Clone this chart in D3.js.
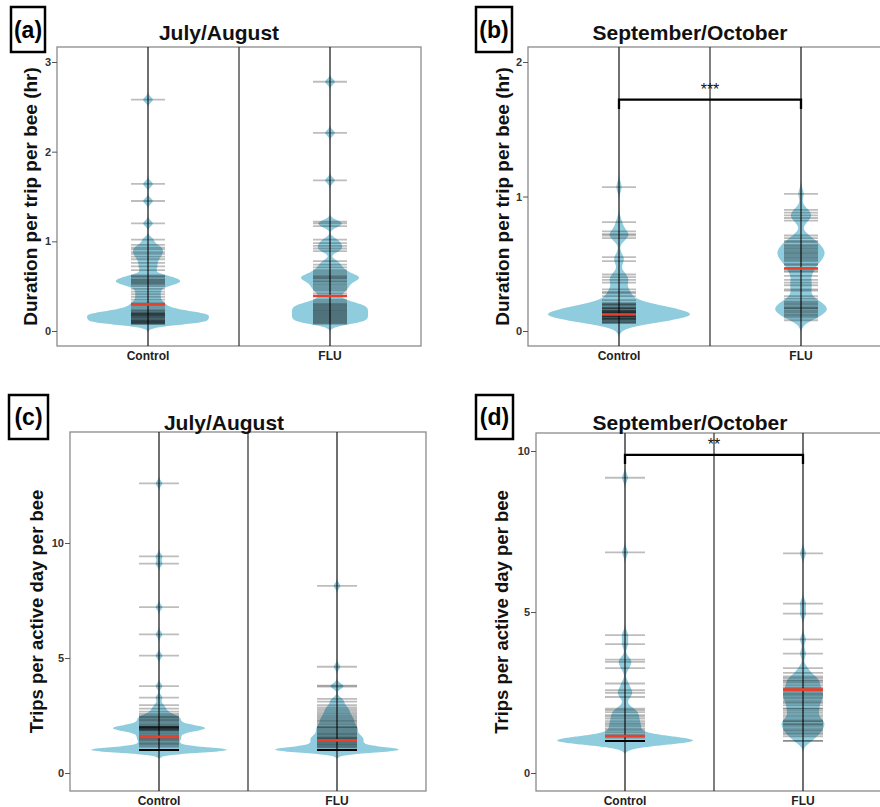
<!DOCTYPE html>
<html><head><meta charset="utf-8">
<script src="https://cdn.jsdelivr.net/npm/d3@7"></script>
<style>body{margin:0;background:#fff} svg{display:block;font-family:"Liberation Sans",Arial,sans-serif}</style>
</head><body><svg id="chart" width="880" height="807"></svg>
<script>
// ---------------- DATA ----------------
const categories = ["Control", "FLU"];

// (a) Duration per trip per bee (hr), July/August
const durJulControl = [2.58, 1.64, 1.45, 1.20, 1.02,
  0.96, 0.93, 0.91, 0.88, 0.86, 0.83, 0.80, 0.76, 0.72, 0.68,
  0.62, 0.61, 0.60, 0.58, 0.57, 0.56, 0.55, 0.54, 0.53, 0.52, 0.50, 0.47, 0.44, 0.41, 0.38, 0.35,
  0.32, 0.30, 0.28, 0.26, 0.24, 0.23, 0.22, 0.21, 0.20, 0.20, 0.19, 0.19, 0.18, 0.18, 0.17, 0.17,
  0.16, 0.15, 0.15, 0.14, 0.13, 0.12, 0.12, 0.11, 0.11, 0.10, 0.10, 0.09, 0.09, 0.08, 0.08];
const durJulFLU = [2.78, 2.21, 1.68, 1.22, 1.20, 1.17,
  1.02, 0.98, 0.95, 0.92, 0.89,
  0.78, 0.74, 0.71, 0.68, 0.66, 0.64, 0.62, 0.61, 0.60, 0.59, 0.58, 0.56, 0.55, 0.53, 0.51, 0.49, 0.47, 0.45, 0.42, 0.39,
  0.35, 0.33, 0.31, 0.30, 0.29, 0.28, 0.27, 0.26, 0.25, 0.24, 0.23, 0.22, 0.21, 0.20, 0.19, 0.18,
  0.17, 0.16, 0.15, 0.14, 0.13, 0.12, 0.11, 0.10, 0.09, 0.08];
const durJulAverage = [0.297, 0.39];
const durJulTicks = [0, 1, 2, 3];

// (b) Duration per trip per bee (hr), September/October
const durSepControl = [1.07, 0.81, 0.74, 0.72, 0.71, 0.69, 0.55, 0.52, 0.42, 0.40, 0.38, 0.36,
  0.31, 0.29, 0.28, 0.26,
  0.23, 0.21, 0.20, 0.20, 0.19, 0.19, 0.18, 0.17, 0.17, 0.17, 0.16, 0.16, 0.15, 0.15, 0.15, 0.14, 0.14, 0.14, 0.13, 0.13, 0.13, 0.13,
  0.12, 0.12, 0.12, 0.12, 0.11, 0.11, 0.11, 0.11, 0.10, 0.10, 0.10, 0.09, 0.09, 0.09, 0.08, 0.08, 0.07, 0.07, 0.06, 0.06];
const durSepFLU = [1.02, 0.90, 0.88, 0.86, 0.84, 0.82,
  0.71, 0.69, 0.67, 0.66, 0.64, 0.63, 0.62, 0.61, 0.60, 0.59, 0.58, 0.57, 0.56, 0.55, 0.54, 0.53, 0.52, 0.50, 0.49, 0.47, 0.45, 0.44,
  0.41, 0.38, 0.36, 0.34, 0.31, 0.30,
  0.26, 0.24, 0.22, 0.21, 0.20, 0.19, 0.18, 0.17, 0.17, 0.16, 0.15, 0.14, 0.13, 0.12, 0.11, 0.10, 0.08];
const durSepAverage = [0.123, 0.465];
const durSepTicks = [0, 1, 2];
const durSepBracket = [1.72, 1.65];

// (c) Trips per active day per bee, July/August
const tripsJulControl = [12.59, 9.42, 9.10, 7.21, 6.03, 5.10, 3.78, 3.28, 2.95, 2.80, 2.67, 2.57, 2.50, 2.45, 2.43, 2.38, 2.33, 2.30,
  2.25, 2.20, 2.14, 2.10, 2.05, 2.02, 2.00, 2.00, 2.00, 1.98, 1.96, 1.95, 1.93, 1.92, 1.90, 1.88, 1.86, 1.84, 1.80, 1.75, 1.70, 1.65, 1.60, 1.57,
  1.50, 1.50, 1.44, 1.40, 1.33, 1.29, 1.25, 1.20, 1.14,
  1.00, 1.00, 1.00, 1.00, 1.00, 1.00, 1.00, 1.00, 1.00, 1.00, 1.00, 1.00, 1.00, 1.00, 1.00, 1.00, 1.00, 1.00, 1.00, 1.00];
const tripsJulFLU = [8.14, 4.62, 3.80, 3.76, 3.22, 3.10, 2.95, 2.85, 2.78, 2.70, 2.62, 2.55, 2.48, 2.42, 2.36, 2.30,
  2.25, 2.20, 2.14, 2.08, 2.00, 2.00, 1.95, 1.90, 1.85, 1.80, 1.75, 1.70, 1.67, 1.62, 1.57, 1.53, 1.50, 1.50,
  1.45, 1.40, 1.36, 1.33, 1.29, 1.25, 1.22, 1.18, 1.14, 1.10,
  1.00, 1.00, 1.00, 1.00, 1.00, 1.00, 1.00, 1.00, 1.00, 1.00, 1.00, 1.00, 1.00, 1.00, 1.00, 1.00, 1.00];
const tripsJulAverage = [1.57, 1.42];
const tripsJulTicks = [0, 5, 10];

// (d) Trips per active day per bee, September/October
const tripsSepControl = [9.17, 6.85, 4.28, 4.00, 3.52, 3.45, 3.26, 2.78, 2.57, 2.49, 2.36, 2.00, 1.95, 1.89, 1.80, 1.75,
  1.69, 1.61, 1.55, 1.50, 1.45, 1.38, 1.33, 1.27, 1.20, 1.15, 1.10,
  1.00, 1.00, 1.00, 1.00, 1.00, 1.00, 1.00, 1.00, 1.00, 1.00, 1.00, 1.00, 1.00, 1.00, 1.00, 1.00, 1.00, 1.00, 1.00, 1.00, 1.00, 1.00];
const tripsSepFLU = [6.82, 5.26, 4.95, 4.15, 3.71, 3.26, 3.11, 3.00, 2.95, 2.88, 2.85, 2.80, 2.73, 2.66, 2.62, 2.59, 2.53, 2.47,
  2.44, 2.40, 2.35, 2.31, 2.25, 2.20, 2.16, 2.10, 2.00, 2.00, 1.93, 1.87, 1.80, 1.74, 1.67, 1.61, 1.61, 1.55, 1.50, 1.50,
  1.44, 1.38, 1.33, 1.29, 1.24, 1.20, 1.14, 1.00, 1.00];
const tripsSepAverage = [1.15, 2.59];
const tripsSepTicks = [0, 5, 10];
const tripsSepBracket = [9.88, 9.60];

// ---------------- LAYOUT ----------------
const panels = [
  {letter: "(a)", title: "July/August", ylabel: "Duration per trip per bee (hr)", ylabSize: 19,
   series: [durJulControl, durJulFLU], avg: durJulAverage, ticks: durJulTicks,
   bw: 0.032, maxW: 61, half: 17, box: [57, 421, 47, 346], yr: [331, 62],
   lbox: [11, 7, 34, 45], titleX: 219, titleY: 40, ylabX: 30, bracket: null},
  {letter: "(b)", title: "September/October", ylabel: "Duration per trip per bee (hr)", ylabSize: 19,
   series: [durSepControl, durSepFLU], avg: durSepAverage, ticks: durSepTicks,
   bw: 0.038, maxW: 71, half: 17, box: [528, 892, 47, 346], yr: [331, 62],
   lbox: [476, 7, 36, 45], titleX: 690, titleY: 40, ylabX: 502, bracket: durSepBracket, stars: "***"},
  {letter: "(c)", title: "July/August", ylabel: "Trips per active day per bee", ylabSize: 18.5,
   series: [tripsJulControl, tripsJulFLU], avg: tripsJulAverage, ticks: tripsJulTicks,
   bw: 0.12, maxW: 68, half: 20, box: [70, 426, 432, 791], yr: [773, 543],
   lbox: [9, 395, 39, 44], titleX: 224, titleY: 430, ylabX: 36, bracket: null},
  {letter: "(d)", title: "September/October", ylabel: "Trips per active day per bee", ylabSize: 18.5,
   series: [tripsSepControl, tripsSepFLU], avg: tripsSepAverage, ticks: tripsSepTicks,
   bw: 0.13, maxW: 68, half: 20, box: [536, 892, 433, 791], yr: [773, 451],
   lbox: [476, 395, 37, 44], titleX: 690, titleY: 430, ylabX: 501, bracket: tripsSepBracket, stars: "**"}
];

const svg = d3.select("#chart");
const VIOLIN = "rgb(143,205,222)";

function kde(values, bw, grid) {
  const c = 1 / (bw * Math.sqrt(2 * Math.PI));
  return grid.map(g => {
    let s = 0;
    for (const v of values) { const z = (g - v) / bw; s += Math.exp(-0.5 * z * z); }
    return {v: g, d: s * c};
  });
}

panels.forEach(p => {
  const g = svg.append("g");
  const [bx0, bx1, by0, by1] = p.box;
  const topTick = p.ticks[p.ticks.length - 1];
  const y = d3.scaleLinear().domain([0, topTick]).range(p.yr);
  const x = d3.scaleBand().domain(categories).range([bx0, bx1]).padding(0);
  const cx = c => x(c) + x.bandwidth() / 2;

  const dens = p.series.map(vals => {
    const lo = d3.min(vals) - 3 * p.bw, hi = d3.max(vals) + 3 * p.bw;
    const step = p.bw / 10;
    const grid = d3.range(lo, hi + step / 2, step);
    return kde(vals, p.bw, grid);
  });
  const maxD = d3.max(dens, ds => d3.max(ds, d => d.d));
  const w = d3.scaleLinear().domain([0, maxD]).range([0, p.maxW]);

  g.append("rect").attr("x", bx0).attr("y", by0).attr("width", bx1 - bx0).attr("height", by1 - by0)
    .attr("fill", "none").attr("stroke", "#8a8a8a").attr("stroke-width", 1.3);

  categories.forEach((c, i) => {
    const area = d3.area().curve(d3.curveBasis)
      .y(d => y(d.v)).x0(d => cx(c) - w(d.d)).x1(d => cx(c) + w(d.d));
    g.append("path").datum(dens[i]).attr("d", area).attr("fill", VIOLIN);
  });

  g.append("line").attr("x1", bx0 + x.bandwidth()).attr("x2", bx0 + x.bandwidth())
    .attr("y1", by0).attr("y2", by1).attr("stroke", "#3a3a3a").attr("stroke-width", 1.3);
  categories.forEach(c => {
    g.append("line").attr("x1", cx(c)).attr("x2", cx(c)).attr("y1", by0).attr("y2", by1)
      .attr("stroke", "#222").attr("stroke-width", 1.3);
  });

  categories.forEach((c, i) => {
    g.append("g").selectAll("line").data(p.series[i]).join("line")
      .attr("x1", cx(c) - p.half).attr("x2", cx(c) + p.half)
      .attr("y1", d => y(d)).attr("y2", d => y(d))
      .attr("stroke", "#000").attr("stroke-opacity", 0.26).attr("stroke-width", 1.8);
  });
  categories.forEach((c, i) => {
    g.append("line").attr("x1", cx(c) - p.half).attr("x2", cx(c) + p.half)
      .attr("y1", y(p.avg[i])).attr("y2", y(p.avg[i]))
      .attr("stroke", "#e8402a").attr("stroke-width", 2.6);
  });

  const ax = g.append("g").attr("transform", `translate(${bx0},0)`)
    .call(d3.axisLeft(y).tickValues(p.ticks).tickSize(5).tickPadding(1).tickFormat(d3.format("d")));
  ax.select(".domain").remove();
  ax.selectAll(".tick line").attr("stroke", "#555");
  ax.selectAll("text").attr("font-size", 11).attr("font-weight", "bold").attr("fill", "#333")
    .attr("font-family", "Liberation Sans, Arial, sans-serif");

  categories.forEach(c => {
    g.append("text").attr("x", cx(c)).attr("y", by1 + 14).attr("text-anchor", "middle")
      .attr("font-size", 12).attr("font-weight", "bold").attr("fill", "#222").text(c);
  });

  g.append("text").attr("transform", `translate(${p.ylabX},${(by0 + by1) / 2}) rotate(-90)`)
    .attr("text-anchor", "middle").attr("dominant-baseline", "central")
    .attr("font-size", p.ylabSize).attr("font-weight", "bold").attr("fill", "#111").text(p.ylabel);

  g.append("text").attr("x", p.titleX).attr("y", p.titleY).attr("text-anchor", "middle")
    .attr("font-size", 21).attr("font-weight", "bold").attr("fill", "#111").text(p.title);

  const [lx, ly, lw, lh] = p.lbox;
  g.append("rect").attr("x", lx).attr("y", ly).attr("width", lw).attr("height", lh)
    .attr("fill", "#fff").attr("stroke", "#000").attr("stroke-width", 2.5);
  g.append("text").attr("x", lx + lw / 2).attr("y", ly + lh / 2 + 8).attr("text-anchor", "middle")
    .attr("font-size", 23).attr("font-weight", "bold").attr("fill", "#000").text(p.letter);

  if (p.bracket) {
    const [yb, yt] = p.bracket;
    const xa = cx(categories[0]), xb = cx(categories[1]);
    g.append("path").attr("d", `M${xa},${y(yt)}V${y(yb)}H${xb}V${y(yt)}`)
      .attr("fill", "none").attr("stroke", "#000").attr("stroke-width", 2.3);
    g.append("text").attr("x", (xa + xb) / 2).attr("y", y(yb) - 5).attr("text-anchor", "middle")
      .attr("font-size", 16).attr("fill", "#111").text(p.stars);
  }
});
</script>
</body></html>
